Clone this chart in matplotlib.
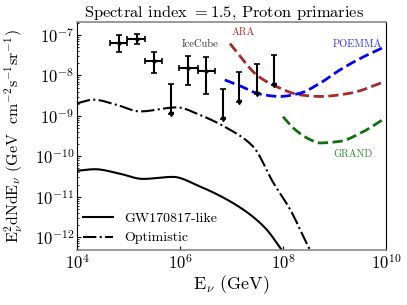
import numpy as np
import matplotlib
matplotlib.use("Agg")
import matplotlib.pyplot as plt
from matplotlib.ticker import NullFormatter, NullLocator

plt.rcParams['font.family'] = 'serif'
plt.rcParams['font.serif'] = ['cmr10']
plt.rcParams['mathtext.fontset'] = 'cm'
plt.rcParams['axes.formatter.use_mathtext'] = True

# ---- data (log10 E [GeV], log10 flux) ----
gw_logE = [4.0, 4.35, 4.8, 5.28, 5.86, 6.39, 6.91, 7.36, 7.68, 7.97, 8.05]
gw_logF = [-10.36, -10.32, -10.42, -10.56, -10.51, -10.75, -11.07, -11.44, -11.81, -12.31, -12.45]

opt_logE = [4.0, 4.32, 4.8, 5.22, 5.94, 6.39, 6.91, 7.42, 7.81, 8.14, 8.52, 8.6]
opt_logF = [-8.69, -8.60, -8.74, -8.89, -8.79, -8.98, -9.30, -9.76, -10.65, -11.32, -12.31, -12.5]

ara_logE = [6.97, 7.2, 7.49, 7.88, 8.33, 8.72, 9.30, 9.98]
ara_logF = [-7.21, -7.58, -7.99, -8.28, -8.48, -8.52, -8.44, -8.15]

poemma_logE = [6.87, 7.17, 7.55, 7.94, 8.33, 8.72, 9.11, 9.50, 9.98]
poemma_logF = [-8.11, -8.26, -8.46, -8.52, -8.44, -8.19, -7.86, -7.58, -7.29]

grand_logE = [8.0, 8.2, 8.47, 8.72, 9.11, 9.50, 9.98]
grand_logF = [-9.02, -9.30, -9.55, -9.67, -9.63, -9.43, -9.06]

ic_logE = [4.82, 5.16, 5.50, 6.16, 6.50]
ic_logE_lo = [4.64, 4.98, 5.32, 5.99, 6.34]
ic_logE_hi = [4.98, 5.33, 5.66, 6.34, 6.67]
ic_logF = [-7.19, -7.10, -7.64, -7.81, -7.88]
ic_logF_lo = [-7.41, -7.21, -7.95, -8.23, -8.46]
ic_logF_hi = [-7.00, -6.98, -7.43, -7.53, -7.54]

ul_logE = [5.83, 6.83, 7.15, 7.49, 7.83]
ul_logF = [-8.22, -8.34, -7.91, -7.72, -7.49]
ul_arrow = 0.74  # decades

def p(a):
    return 10.0 ** np.asarray(a)

fig = plt.figure(figsize=(4.07, 3.05), dpi=100)
ax = fig.add_axes([77/407, 1 - 250/305, (386-77)/407, (250-22)/305])

def smooth(lx, ly, n=200):
    lx = np.asarray(lx, float); ly = np.asarray(ly, float)
    xs = np.linspace(lx[0], lx[-1], n)
    h = np.diff(lx); d = np.diff(ly) / h
    m = np.zeros_like(lx)
    m[0] = d[0]; m[-1] = d[-1]
    for i in range(1, len(lx) - 1):
        if d[i-1] * d[i] <= 0:
            m[i] = 0
        else:
            w1 = 2*h[i] + h[i-1]; w2 = h[i] + 2*h[i-1]
            m[i] = (w1 + w2) / (w1/d[i-1] + w2/d[i])
    idx = np.clip(np.searchsorted(lx, xs) - 1, 0, len(lx) - 2)
    t = (xs - lx[idx]) / h[idx]
    h00 = 2*t**3 - 3*t**2 + 1; h10 = t**3 - 2*t**2 + t
    h01 = -2*t**3 + 3*t**2; h11 = t**3 - t**2
    ys = h00*ly[idx] + h10*h[idx]*m[idx] + h01*ly[idx+1] + h11*h[idx]*m[idx+1]
    return p(xs), p(ys)

x, y = smooth(gw_logE, gw_logF)
ax.plot(x, y, color='black', lw=1.5, label='GW170817-like')
x, y = smooth(opt_logE, opt_logF)
ax.plot(x, y, color='black', lw=1.5, ls='-.', label='Optimistic')

x, y = smooth(ara_logE, ara_logF)
ax.plot(x, y, color='#a52a2a', lw=2, ls='--')
x, y = smooth(poemma_logE, poemma_logF)
ax.plot(x, y, color='blue', lw=2, ls='--')
x, y = smooth(grand_logE, grand_logF)
ax.plot(x, y, color='#107010', lw=2, ls='--')

# IceCube points
ex = p(ic_logE); ey = p(ic_logF)
xerr = [ex - p(ic_logE_lo), p(ic_logE_hi) - ex]
yerr = [ey - p(ic_logF_lo), p(ic_logF_hi) - ey]
ax.errorbar(ex, ey, xerr=xerr, yerr=yerr, fmt='o', ms=2, color='black',
            elinewidth=1.5, capsize=2, capthick=1.2)
ux = p(ul_logE); uy = p(ul_logF)
ax.errorbar(ux, uy, yerr=[uy - uy * 10**(-ul_arrow), np.zeros_like(uy)], fmt='none',
            color='black', elinewidth=1.5, capsize=2, capthick=1.2)
ax.plot(ux, uy * 10**(-ul_arrow), 'v', color='black', ms=3)

ax.text(p(6.04), p(-7.22), 'IceCube', fontsize=7.5, color='#333333', ha='left', va='center')
ax.text(p(7.01), p(-6.93), 'ARA', fontsize=7.5, color='#b03030', ha='left', va='center')
ax.text(p(8.97), p(-7.22), 'POEMMA', fontsize=7.5, color='#3030ff', ha='left', va='center')
ax.text(p(8.97), p(-9.94), 'GRAND', fontsize=7.5, color='#309030', ha='left', va='center')

ax.set_xscale('log'); ax.set_yscale('log')
ax.set_xlim(1e4, 1e10)
ax.set_ylim(4.8e-13, 2.1e-7)
ax.set_xticks([1e4, 1e6, 1e8, 1e10])
ax.xaxis.set_minor_locator(NullLocator())
ax.yaxis.set_minor_formatter(NullFormatter())
ax.tick_params(which='both', direction='in', labelsize=12, pad=2)
ax.tick_params(which='major', length=3)
ax.tick_params(which='minor', length=1.5)
for s in ['top', 'bottom']:
    ax.spines[s].set_color('#888888')
    ax.spines[s].set_linewidth(1.2)

ax.set_xlabel(r'E$_\nu$ (GeV)', fontsize=13, labelpad=1)
ax.set_ylabel(r'E$_\nu^2$dNdE$_\nu$ (GeV  cm$^{-2}$s$^{-1}$sr$^{-1}$)', fontsize=11.5)
ax.yaxis.set_label_coords(-0.168, 0.5)
ax.set_title(r'Spectral index $=1.5$, Proton primaries', fontsize=11.8, pad=3, x=0.476)
ax.legend(loc='lower left', frameon=False, fontsize=10, handlelength=2.2,
          borderaxespad=0.1, borderpad=0.3, labelspacing=0.5, handletextpad=0.8)

fig.savefig('out.png', dpi=100)
